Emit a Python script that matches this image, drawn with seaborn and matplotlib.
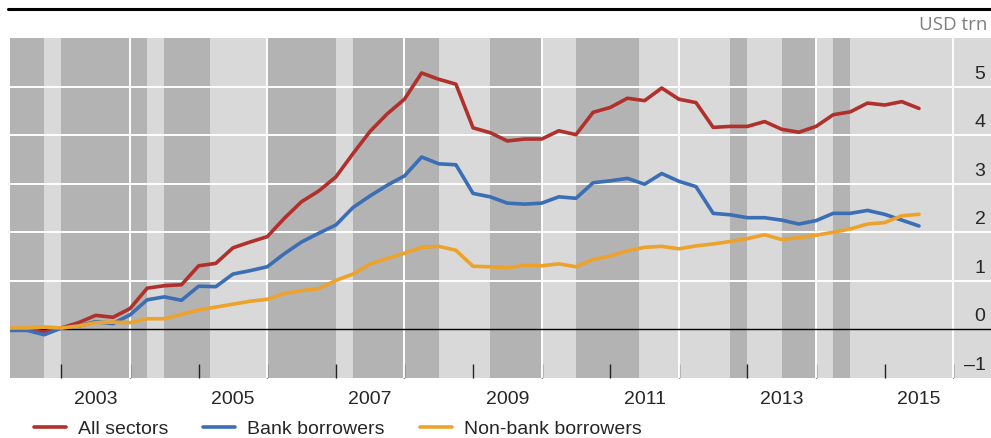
import numpy as np
import pandas as pd
import matplotlib
matplotlib.use("Agg")
import matplotlib.pyplot as plt
from matplotlib.lines import Line2D
import seaborn as sns

# --- data (USD trn, quarter-end, 2002Q1 .. 2015Q2) ---
quarters = pd.period_range("2002Q1", "2015Q2", freq="Q")
all_sectors = [0.00, 0.00, -0.05, 0.03, 0.14, 0.29, 0.25, 0.43, 0.85, 0.90, 0.92, 1.31, 1.36, 1.68,
               1.80, 1.91, 2.29, 2.63, 2.85, 3.14, 3.62, 4.08, 4.44, 4.74, 5.28, 5.15, 5.05, 4.15,
               4.05, 3.88, 3.92, 3.92, 4.09, 4.01, 4.47, 4.57, 4.76, 4.71, 4.97, 4.74, 4.67, 4.16,
               4.18, 4.18, 4.28, 4.12, 4.06, 4.18, 4.42, 4.48, 4.66, 4.62, 4.69, 4.55]
bank = [-0.02, -0.02, -0.11, 0.03, 0.07, 0.16, 0.12, 0.30, 0.61, 0.67, 0.60, 0.89, 0.88, 1.14,
        1.21, 1.29, 1.56, 1.80, 1.98, 2.15, 2.51, 2.75, 2.97, 3.16, 3.55, 3.41, 3.39, 2.80,
        2.73, 2.60, 2.58, 2.60, 2.73, 2.70, 3.02, 3.06, 3.11, 2.99, 3.21, 3.05, 2.94, 2.39,
        2.36, 2.30, 2.30, 2.25, 2.17, 2.24, 2.39, 2.39, 2.45, 2.37, 2.25, 2.13]
non_bank = [0.03, 0.03, 0.05, 0.03, 0.07, 0.14, 0.15, 0.14, 0.22, 0.22, 0.31, 0.40, 0.46, 0.52,
            0.58, 0.62, 0.74, 0.80, 0.84, 1.01, 1.14, 1.35, 1.46, 1.57, 1.69, 1.71, 1.63, 1.30,
            1.29, 1.27, 1.32, 1.31, 1.35, 1.29, 1.44, 1.51, 1.62, 1.69, 1.71, 1.66, 1.72, 1.76,
            1.81, 1.87, 1.95, 1.85, 1.89, 1.94, 2.00, 2.07, 2.17, 2.20, 2.34, 2.37]
series_names = ["All sectors", "Bank borrowers", "Non-bank borrowers"]
series_colors = ["#b0302c", "#3b6eb4", "#eca22b"]

# shaded periods (decimal years)
dark_bands = [(2002.25, 2002.75), (2003.0, 2004.25), (2004.5, 2005.17), (2006.0, 2007.0),
              (2007.25, 2008.5), (2009.25, 2010.0), (2010.5, 2011.42), (2012.75, 2013.0),
              (2013.5, 2014.0), (2014.25, 2014.5)]
year_ticks = list(range(2003, 2017))
year_labels = [2003, 2005, 2007, 2009, 2011, 2013, 2015]
grid_years = [2004, 2006, 2008, 2010, 2012, 2014, 2016]
y_ticks = [-1, 0, 1, 2, 3, 4, 5]

t = quarters.year + quarters.quarter / 4.0
df = pd.DataFrame({
    "date": np.tile(t, 3),
    "value": all_sectors + bank + non_bank,
    "series": np.repeat(series_names, len(t)),
})

sns.set_style("white")
plt.rcParams["font.family"] = ["Liberation Sans", "DejaVu Sans"]

fig = plt.figure(figsize=(9.91, 4.38), dpi=100)
ax = fig.add_axes([10 / 991, 60 / 438, 981 / 991, 340 / 438])
ax.set_facecolor("#d9d9d9")

for a, b in dark_bands:
    ax.axvspan(a, b, color="#b3b3b3", lw=0, zorder=0)
for g in grid_years:
    ax.axvline(g, color="white", lw=1.4, zorder=1)
for v in y_ticks[2:]:
    ax.axhline(v, color="white", lw=1.4, zorder=1)
ax.axhline(0, color="black", lw=1.0, zorder=2)

sns.lineplot(data=df, x="date", y="value", hue="series", hue_order=series_names,
             palette=series_colors, lw=2.6, ax=ax, zorder=3)

ax.set_xlim(2002.25, 2016.55)
ax.set_ylim(-1, 6)
ax.set_xlabel("")
ax.set_ylabel("")
for s in ax.spines.values():
    s.set_visible(False)

ax.set_xticks(year_ticks)
ax.set_xticklabels([])
ax.tick_params(axis="x", which="major", direction="in", length=10, width=1, color="#222222", bottom=True)
ax.set_xticks([y + 0.5 for y in year_labels], minor=True)
ax.set_xticklabels([str(y) for y in year_labels], minor=True, fontsize=14)
ax.tick_params(axis="x", which="minor", length=0, pad=9)
ax.set_yticks([])

for v in y_ticks:
    lab = str(v) if v >= 0 else "\u2013" + str(-v)
    ax.annotate(lab, xy=(1, v), xycoords=("axes fraction", "data"), xytext=(-4, 9),
                textcoords="offset points", ha="right", va="center", fontsize=14)

fig.text(987 / 991, 1 - 25 / 438, "USD trn", ha="right", va="center", color="#7f7f7f",
         fontsize=13.5, family=["Open Sans", "DejaVu Sans"])
fig.add_artist(Line2D([8 / 991, 1], [1 - 9 / 438] * 2, color="black", lw=2.2,
                      transform=fig.transFigure))

handles, labels = ax.get_legend_handles_labels()
ax.legend(handles, labels, loc="center left", bbox_to_anchor=(24 / 991, 9 / 438),
          bbox_transform=fig.transFigure, ncol=3, frameon=False, fontsize=14, borderpad=0,
          handlelength=1.65, handletextpad=0.62, columnspacing=1.8)

fig.savefig("out.png", dpi=100)
